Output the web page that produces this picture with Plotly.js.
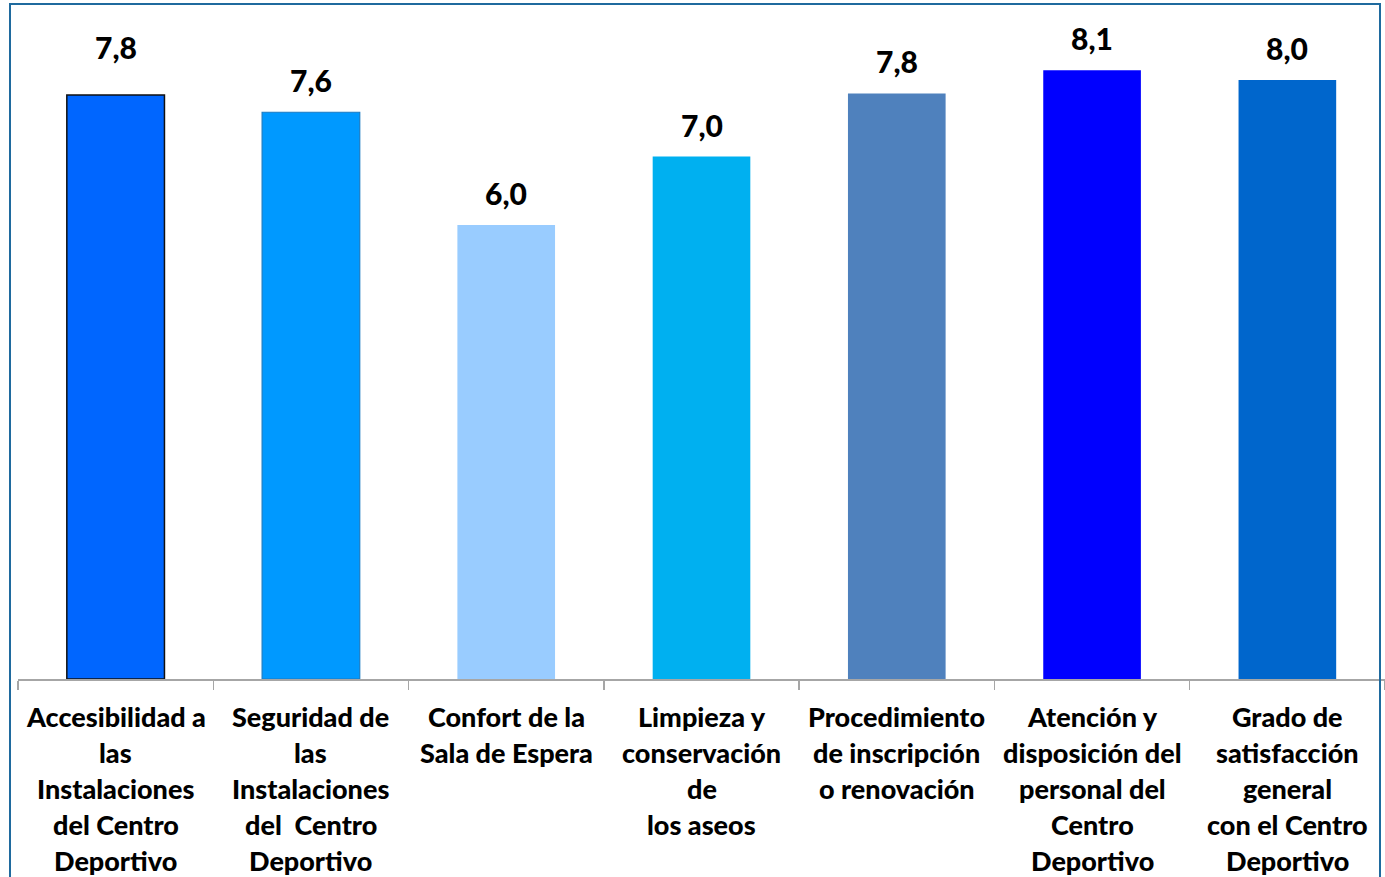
<!DOCTYPE html>
<html>
<head>
<meta charset="utf-8">
<script src="https://cdn.plot.ly/plotly-3.0.1.min.js"></script>
<style>
html,body{margin:0;padding:0;background:#fff;overflow:hidden;}
#wrap{position:relative;width:1385px;height:877px;}
#chart{position:absolute;left:0;top:0;width:1385px;height:877px;}
#frame{position:absolute;left:9px;top:3px;width:1372px;height:900px;border:2px solid #1F6A9E;pointer-events:none;box-sizing:border-box;}
</style>
</head>
<body>
<div id="wrap"><div id="chart"></div><div id="frame"></div></div>
<script>
const categories = [
  "Accesibilidad a<br>las<br>Instalaciones<br>del Centro<br>Deportivo",
  "Seguridad de<br>las<br>Instalaciones<br>del  Centro<br>Deportivo",
  "Confort de la<br>Sala de Espera",
  "Limpieza y<br>conservación<br>de<br>los aseos",
  "Procedimiento<br>de inscripción<br>o renovación",
  "Atención y<br>disposición del<br>personal del<br>Centro<br>Deportivo",
  "Grado de<br>satisfacción<br>general<br>con el Centro<br>Deportivo"
];
const values = [7.77, 7.54, 6.04, 6.95, 7.79, 8.10, 7.97];
const valueLabels = ["7,8", "7,6", "6,0", "7,0", "7,8", "8,1", "8,0"];
const barColors = ["#0066FF", "#0099FF", "#99CCFF", "#00B0F0", "#4F81BD", "#0000FF", "#0066CC"];
const barLines = ["#111111", "#1A7BC4", "#99CCFF", "#00B0F0", "#4F81BD", "#0000FF", "#0066CC"];

const idx = categories.map((c, i) => i);
const trace = {
  type: "bar",
  x: idx,
  y: values,
  marker: {color: barColors, line: {color: barLines, width: [1.5, 1.2, 0, 0, 0, 0, 0]}},
  hoverinfo: "skip"
};

const annotations = [];
values.forEach((v, i) => {
  annotations.push({
    x: i, y: v, xref: "x", yref: "y",
    text: valueLabels[i],
    showarrow: false, yanchor: "bottom",
    yshift: i === 0 ? 28 : 12,
    font: {family: "Lato, 'Open Sans', sans-serif", size: 30, color: "#000", weight: 900}
  });
});
categories.forEach((c, i) => {
  c.split("<br>").forEach((line, j) => {
    annotations.push({
      x: i, y: 0, xref: "x", yref: "paper",
      text: line,
      showarrow: false, yanchor: "middle",
      yshift: -37 - j * 36,
      font: {family: "Lato, 'Open Sans', sans-serif", size: 27, color: "#000", weight: 900}
    });
  });
});

const layout = {
  width: 1385, height: 877,
  margin: {l: 18, r: 0, t: 10, b: 198},
  paper_bgcolor: "rgba(0,0,0,0)",
  plot_bgcolor: "#fff",
  showlegend: false,
  bargap: 0.5,
  separators: ",.",
  xaxis: {
    type: "linear", range: [-0.5, 6.5],
    tickmode: "array", tickvals: [-0.5, 0.5, 1.5, 2.5, 3.5, 4.5, 5.5, 6.5], ticktext: ["", "", "", "", "", "", "", ""],
    ticks: "outside", ticklen: 9, tickwidth: 1.5, tickcolor: "#A6A6A6",
    showline: true, linecolor: "#A6A6A6", linewidth: 1.5,
    showgrid: false, zeroline: false, fixedrange: true
  },
  yaxis: {
    range: [0, 8.9], visible: false, showgrid: false, zeroline: false, fixedrange: true
  },
  annotations: annotations
};

Plotly.newPlot("chart", [trace], layout, {displayModeBar: false, staticPlot: true});
</script>
</body>
</html>
